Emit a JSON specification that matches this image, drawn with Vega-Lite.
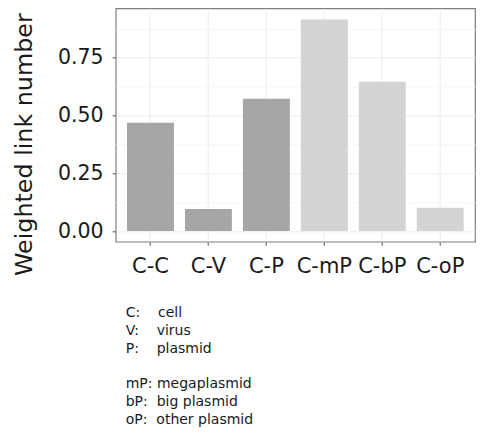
{
  "$schema": "https://vega.github.io/schema/vega-lite/v6.json",
  "autosize": {"type": "none"},
  "padding": {"left": 115.7, "top": 8.3, "right": 11, "bottom": 192.3},
  "width": 359.3,
  "height": 233.4,
  "background": "white",
  "data": {
    "values": [
      {"pair": "C-C", "value": 0.469, "group": "basic"},
      {"pair": "C-V", "value": 0.095, "group": "basic"},
      {"pair": "C-P", "value": 0.573, "group": "basic"},
      {"pair": "C-mP", "value": 0.916, "group": "plasmid"},
      {"pair": "C-bP", "value": 0.646, "group": "plasmid"},
      {"pair": "C-oP", "value": 0.101, "group": "plasmid"}
    ]
  },
  "title": {
    "text": [
      "C:\u00a0\u00a0\u00a0\u00a0cell",
      "V:\u00a0\u00a0\u00a0\u00a0virus",
      "P:\u00a0\u00a0\u00a0\u00a0plasmid"
    ],
    "subtitle": [
      "mP:\u00a0megaplasmid",
      "bP:\u00a0\u00a0big plasmid",
      "oP:\u00a0\u00a0other plasmid"
    ],
    "orient": "bottom",
    "anchor": "start",
    "frame": "group",
    "dx": 10,
    "offset": 30,
    "font": "DejaVu Sans",
    "fontSize": 14,
    "fontWeight": "normal",
    "lineHeight": 17.8,
    "color": "#1a1a1a",
    "subtitleFont": "DejaVu Sans",
    "subtitleFontSize": 14,
    "subtitleLineHeight": 17.8,
    "subtitleColor": "#1a1a1a",
    "subtitlePadding": 21.5
  },
  "mark": {"type": "bar", "width": {"band": 0.9}},
  "encoding": {
    "x": {
      "field": "pair",
      "type": "nominal",
      "sort": null,
      "scale": {"paddingInner": 0.1, "paddingOuter": 0.15},
      "axis": {
        "title": null,
        "labelAngle": 0,
        "labelFont": "DejaVu Sans",
        "labelFontSize": 21,
        "labelColor": "#1a1a1a",
        "labelPadding": 10,
        "tickSize": 3.6,
        "tickColor": "#555555",
        "domain": false,
        "grid": true,
        "gridColor": "#EBEBEB",
        "gridWidth": 1,
        "bandPosition": 0.5
      }
    },
    "y": {
      "field": "value",
      "type": "quantitative",
      "scale": {"domain": [-0.046, 0.964], "nice": false, "zero": false},
      "axis": {
        "title": "Weighted link number",
        "titleFont": "DejaVu Sans",
        "titleFontSize": 23.8,
        "titleFontWeight": "normal",
        "titleColor": "#1a1a1a",
        "titleX": -79,
        "titleY": 135.9,
        "values": [0, 0.125, 0.25, 0.375, 0.5, 0.625, 0.75, 0.875],
        "labelExpr": "(datum.value * 8) % 2 == 0 ? format(datum.value, '.2f') : ''",
        "labelFont": "DejaVu Sans",
        "labelFontSize": 20.5,
        "labelColor": "#1a1a1a",
        "labelPadding": 9,
        "tickSize": 3.6,
        "tickColor": "#555555",
        "tickOpacity": {"condition": {"test": "(datum.value * 8) % 2 == 0", "value": 1}, "value": 0},
        "domain": false,
        "grid": true,
        "gridColor": {"condition": {"test": "(datum.value * 8) % 2 == 0", "value": "#EBEBEB"}, "value": "#F5F5F5"},
        "gridWidth": 1
      }
    },
    "color": {
      "field": "group",
      "type": "nominal",
      "scale": {"domain": ["basic", "plasmid"], "range": ["#A6A6A6", "#D3D3D3"]},
      "legend": null
    }
  },
  "config": {
    "view": {"stroke": "#7F7F7F", "strokeWidth": 1.2},
    "axis": {"labelFlush": false, "labelOverlap": false}
  }
}
